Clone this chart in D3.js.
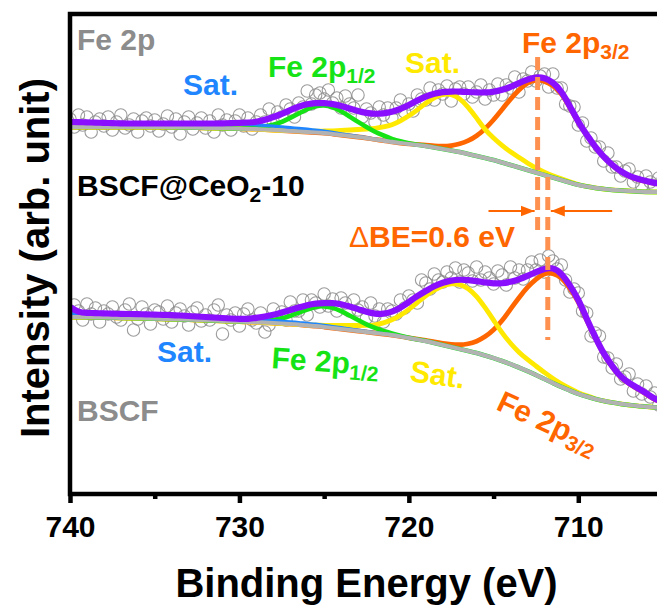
<!DOCTYPE html>
<html>
<head>
<meta charset="utf-8">
<script src="https://cdn.jsdelivr.net/npm/d3@7"></script>
<style>
  body { margin: 0; background: #fff; }
  svg { display: block; }
  text { font-family: "Liberation Sans", Arial, Helvetica, sans-serif; font-weight: bold; }
</style>
</head>
<body>
<svg id="chart" width="657" height="607"></svg>
<script>
// ---------------- Fe 2p XPS data (intensity in arbitrary units) ----------------

// Binding-energy grids (eV): raw scan points and fitted-curve samples
const scanEnergy = d3.range(740, 704.99, -0.25);   // 141 points
const fitEnergy  = d3.range(740, 704.99, -0.5);    // 71 points

const xTicksMajor = [740, 730, 720, 710];
const xTicksMinor = [735, 725, 715];

// Fe 2p3/2 peak positions of the two samples (eV)
const peakCeO2 = 712.4;
const peakBSCF = 711.8;

// --- BSCF@CeO2-10 (upper spectrum) ---
const ceo2Scan = [
  375,367,379,369,377,362,372,375,368,377,
  364,372,379,366,369,375,362,373,376,368,
  374,363,370,378,367,375,360,372,377,365,
  371,376,366,373,362,379,369,374,364,373,
  379,368,376,365,372,379,372,385,372,382,
  377,389,385,377,391,387,403,390,399,401,
  395,404,391,396,386,398,390,386,399,377,
  385,381,372,387,379,386,376,386,394,382,
  390,383,399,395,394,406,394,404,400,408,
  393,405,407,400,407,397,402,409,395,404,
  399,410,399,409,406,417,402,415,413,422,
  413,418,420,407,420,406,406,390,388,387,
  369,371,353,356,347,347,333,341,327,327,
  318,323,325,312,317,308,318,312,308,316,
  314
];
const ceo2Background = [
  367,367,367,367,367,367,367,367,367,367,
  367,367,367,366.5,366.5,366.5,366,366,366,365.5,
  365.5,365,365,364.5,364,363.5,363,362.5,362,361.5,
  361,360,359,358,357,356,354.5,353.5,352,351,
  350,349,348,346.5,345,343.5,342,340,338,336,
  334,331.5,329,326.5,324,321.5,319,316.5,314,311.5,
  309,307.5,306,305,304,303.5,303,302.5,302,302,
  302
];
const ceo2Envelope = [
  372,372,371.5,371.5,371,371,370.5,370.5,370.5,370.5,
  370.5,370.5,370.5,370.5,370.5,370.5,370.5,370.5,370.5,371,
  371,371.5,372,374,377,380,384,387.5,390,391,
  391,390,388,385.5,383,381,380,380.5,382,385,
  389,393.5,397.5,400.5,402,402.5,402.5,402,401.5,401.5,
  402,404,407,411,414.5,417,416.5,412,403,388,
  372,359,347,337,329,322.5,318,315,313,311,
  310
];
// fitted components, height above the background
const ceo2SatLow = [
  4.5,4.5,4.5,4.5,4.5,4.5,4.5,4.5,4.5,4.5,
  4.5,4.5,4.5,4.5,4.5,4.5,4.5,4.5,4.5,4.5,
  4.5,4.5,4.3,4.1,3.9,3.7,3.4,3.1,2.8,2.4,
  2.0,1.6,1.2,0.9,0.6,0.4,0.2,0.1,0,0,
  0,0,0,0,0,0,0,0,0,0,
  0,0,0,0,0,0,0,0,0,0,
  0,0,0,0,0,0,0,0,0,0,
  0
];
const ceo2P12 = [
  0,0,0,0,0,0,0,0,0,0,
  0,0,0,0,0,0,0,0,0,0,
  0,0.5,1.5,3,5,8.5,13,18,23,26.5,
  28,27,24,19.5,15,11,7.5,5,3,1.6,
  0.8,0.3,0,0,0,0,0,0,0,0,
  0,0,0,0,0,0,0,0,0,0,
  0,0,0,0,0,0,0,0,0,0,
  0
];
const ceo2SatHigh = [
  0,0,0,0,0,0,0,0,0,0,
  0,0,0,0,0,0,0,0,0,0,
  0,0,0,0,0,0,0.5,0.6,0.8,1.2,
  2,3.2,4.5,6,7.5,9,11,13.5,17,22,
  28,35,43,50,55,56.5,54,47,38,28,
  22,17,13,10,7,4.5,2.8,1.8,1.1,0.6,
  0.3,0,0,0,0,0,0,0,0,0,
  0
];
const ceo2P32 = [
  0,0,0,0,0,0,0,0,0,0,
  0,0,0,0,0,0,0,0,0,0,
  0,0,0,0,0,0,0,0,0,0,
  0,0,0,0,0,0,0,0,0,0,
  0,0.4,0.9,1.6,2.7,4.8,8,13,20,29,
  40,53,66,78,87.5,93,94,92.5,87,75,
  62,51,40.5,31.5,24.5,18.5,14.5,12,10.5,8.5,
  7.5
];

// --- BSCF (lower spectrum) ---
const bscfScan = [
  183,189,183,174,190,180,186,172,183,180,
  187,177,174,184,190,164,175,187,180,170,
  184,182,175,188,172,181,185,178,169,182,
  186,173,179,174,184,189,160,179,174,181,
  168,180,185,174,171,181,162,169,185,175,
  182,174,192,183,183,194,179,194,191,187,
  200,188,195,183,196,191,183,194,184,187,
  176,191,178,185,172,185,183,180,194,186,
  198,194,191,214,211,205,220,214,212,222,
  216,226,212,224,221,213,227,214,222,216,
  210,223,219,209,227,216,224,215,224,232,
  224,234,222,238,233,225,229,214,202,205,
  201,183,181,158,161,158,137,136,126,130,
  115,117,120,103,110,100,108,97,101,89,
  95
];
const bscfBackground = [
  177,177,177,176.5,176.5,176.5,176,176,176,175.5,
  175.5,175,175,174.5,174.5,174,174,173.5,173,173,
  172.5,172,172,171.5,171,170.5,170,169.5,168.5,168,
  167,166,165,164,163,162,161,160,159,157.5,
  156,154.5,153,151,149,147,145,143,141,138.5,
  136,133,130,126.5,123,119,115,111,107,103.5,
  100,97.5,95,93,91.5,90,89,88,87.5,86.5,
  86
];
const bscfEnvelope = [
  187,181.5,181,181,180.5,180.5,180,180,180,179.5,
  179.5,179,179,178.5,178,177.5,177,176.5,176,175.5,
  175,175,176,177.5,179,181.5,184,186.5,189,190.5,
  191,191,190,187.5,185,182,180,180,182,186,
  192,198,203,208,211.5,213.5,214.5,214,213,211.5,
  210.5,210.5,212,214.5,218,222,225.5,226.5,221,209,
  195,175,157,140,128,117,111,106,101,95,
  92
];
const bscfSatLow = [
  3.5,3.5,3.5,3.5,3.5,3.5,3.5,3.5,3.5,3.5,
  3.5,3.4,3.4,3.3,3.3,3.2,3.2,3.1,3.0,2.9,
  2.8,2.7,2.6,2.5,2.4,2.3,2.2,2.1,2.0,1.9,
  1.7,1.5,1.3,1.1,0.9,0.7,0.5,0.3,0.2,0.1,
  0,0,0,0,0,0,0,0,0,0,
  0,0,0,0,0,0,0,0,0,0,
  0,0,0,0,0,0,0,0,0,0,
  0
];
const bscfP12 = [
  0,0,0,0,0,0,0,0,0,0,
  0,0,0,0,0,0,0,0,0,0,
  0,0.3,0.8,1.5,3,5,8,12,16,19.5,
  21,20.5,18,14.5,11,7.5,5,3,1.6,0.8,
  0.3,0,0,0,0,0,0,0,0,0,
  0,0,0,0,0,0,0,0,0,0,
  0,0,0,0,0,0,0,0,0,0,
  0
];
const bscfSatHigh = [
  0,0,0,0,0,0,0,0,0,0,
  0,0,0,0,0,0,0,0,0,0,
  0,0,0,0,0,0,0,0.3,0.5,1,
  1.5,2.5,3.5,4.5,5.5,6.5,8,11,15,21,
  28.5,37,45.5,53,59.5,63.5,65,63,57,48,
  38,28,20.5,15,11.5,9,6.5,4.5,3,2,
  1.2,0.6,0.2,0,0,0,0,0,0,0,
  0
];
const bscfP32 = [
  0,0,0,0,0,0,0,0,0,0,
  0,0,0,0,0,0,0,0,0,0,
  0,0,0,0,0,0,0,0,0,0,
  0,0,0,0,0,0,0,0,0,0,
  0,0.3,0.6,1,1.6,2.5,4,7,11.5,18.5,
  28,40,55,70,84,96,106,110,110,102.5,
  93,76,61,46,35.5,26,21,17,12.5,7.5,
  5
];

// ---------------- colours ----------------
const C = {
  envelope: "#8b0fff",
  p32: "#ff6600",
  satHigh: "#ffe900",
  p12: "#16e316",
  satLow: "#1f86ff",
  background: "#b2b2b2",
  scan: "#8a8a8a",
  marker: "#ff9150",
  note: "#ff6600",
  panel: "#8c8c8c"
};

// ---------------- layout ----------------
const plotL = 70, plotR = 663, plotT = 14, plotB = 494;
const x = d3.scaleLinear().domain([740, 705]).range([plotL, plotR]);
const y = d3.scaleLinear().domain([0, 480]).range([plotB, plotT]);

const svg = d3.select("#chart");
const defs = svg.append("defs");
defs.append("clipPath").attr("id", "plotClip")
  .append("rect").attr("x", plotL).attr("y", plotT)
  .attr("width", plotR - plotL).attr("height", plotB - plotT);
defs.append("marker").attr("id", "arrowHead")
  .attr("markerUnits", "userSpaceOnUse")
  .attr("viewBox", "0 -6 14 12").attr("refX", 14).attr("refY", 0)
  .attr("markerWidth", 14).attr("markerHeight", 12).attr("orient", "auto")
  .append("path").attr("d", "M0,-5.5L14,0L0,5.5Z").attr("fill", C.note);

const plot = svg.append("g").attr("clip-path", "url(#plotClip)");

// raw scan points
function drawScan(values) {
  plot.append("g").selectAll("circle").data(values).join("circle")
    .attr("cx", (d, i) => x(scanEnergy[i]))
    .attr("cy", d => y(d))
    .attr("r", 6.2)
    .attr("fill", "none")
    .attr("stroke", C.scan)
    .attr("stroke-opacity", 0.85)
    .attr("stroke-width", 1.1);
}

const fitLine = d3.line().curve(d3.curveBasis);
function drawCurve(values, color, width) {
  plot.append("path")
    .attr("d", fitLine(fitEnergy.map((e, i) => [x(e), y(values[i])])))
    .attr("fill", "none")
    .attr("stroke", color)
    .attr("stroke-width", width)
    .attr("stroke-linejoin", "round");
}
const onBackground = (bg, h) => bg.map((b, i) => b + h[i]);

function drawSpectrum(s) {
  drawCurve(onBackground(s.bg, s.p32), C.p32, 4.8);
  drawCurve(onBackground(s.bg, s.satHigh), C.satHigh, 4.8);
  drawCurve(onBackground(s.bg, s.p12), C.p12, 4.6);
  drawCurve(onBackground(s.bg, s.satLow), C.satLow, 3.2);
  drawCurve(s.bg, C.background, 4.2);
  drawCurve(s.env, C.envelope, 6.2);
}

drawScan(ceo2Scan);
drawScan(bscfScan);
drawSpectrum({ bg: ceo2Background, env: ceo2Envelope, satLow: ceo2SatLow, p12: ceo2P12, satHigh: ceo2SatHigh, p32: ceo2P32 });
drawSpectrum({ bg: bscfBackground, env: bscfEnvelope, satLow: bscfSatLow, p12: bscfP12, satHigh: bscfSatHigh, p32: bscfP32 });

// Fe 2p3/2 position markers and the shift between them
const markers = svg.append("g");
markers.append("line")
  .attr("x1", x(peakCeO2)).attr("x2", x(peakCeO2))
  .attr("y1", y(437)).attr("y2", y(258))
  .attr("stroke", C.marker).attr("stroke-width", 5).attr("stroke-dasharray", "13,7");
markers.append("line")
  .attr("x1", x(peakBSCF)).attr("x2", x(peakBSCF))
  .attr("y1", y(317)).attr("y2", y(154))
  .attr("stroke", C.marker).attr("stroke-width", 5).attr("stroke-dasharray", "13,7");
markers.append("line")
  .attr("x1", x(715.3)).attr("x2", x(peakCeO2) - 3)
  .attr("y1", y(283)).attr("y2", y(283))
  .attr("stroke", C.note).attr("stroke-width", 2).attr("marker-end", "url(#arrowHead)");
markers.append("line")
  .attr("x1", x(708.0)).attr("x2", x(peakBSCF) + 3)
  .attr("y1", y(283)).attr("y2", y(283))
  .attr("stroke", C.note).attr("stroke-width", 2).attr("marker-end", "url(#arrowHead)");

// ---------------- frame and axis ----------------
svg.append("rect")
  .attr("x", plotL).attr("y", plotT)
  .attr("width", plotR - plotL).attr("height", plotB - plotT)
  .attr("fill", "none").attr("stroke", "#000").attr("stroke-width", 4.5);

const axisMajor = svg.append("g").attr("transform", `translate(0,${plotB})`)
  .call(d3.axisBottom(x).tickValues(xTicksMajor).tickSize(9).tickPadding(13).tickFormat(d3.format("d")));
axisMajor.select(".domain").remove();
axisMajor.selectAll(".tick line").attr("stroke", "#000").attr("stroke-width", 4.5);
axisMajor.selectAll(".tick text")
  .attr("font-size", 30).attr("fill", "#000")
  .style("font-family", '"Liberation Sans", Arial, sans-serif').style("font-weight", "bold");

const axisMinor = svg.append("g").attr("transform", `translate(0,${plotB})`)
  .call(d3.axisBottom(x).tickValues(xTicksMinor).tickSize(5).tickFormat(""));
axisMinor.select(".domain").remove();
axisMinor.selectAll(".tick line").attr("stroke", "#000").attr("stroke-width", 4.5);

svg.append("text")
  .attr("x", (plotL + plotR) / 2).attr("y", 597)
  .attr("text-anchor", "middle").attr("font-size", 40).attr("fill", "#000")
  .text("Binding Energy (eV)");

svg.append("text")
  .attr("transform", "translate(49,258) rotate(-90)")
  .attr("text-anchor", "middle").attr("font-size", 40).attr("fill", "#000")
  .text("Intensity (arb. unit)");

// ---------------- labels ----------------
function label(txt, sub, px, py, color, angle, after) {
  const t = svg.append("text")
    .attr("x", px).attr("y", py).attr("font-size", 30).attr("fill", color);
  if (angle) t.attr("transform", `rotate(${angle},${px},${py})`);
  t.append("tspan").text(txt);
  if (sub) t.append("tspan").attr("dy", 6).attr("font-size", 21).text(sub);
  if (after) t.append("tspan").attr("dy", -6).text(after);
  return t;
}

label("Fe 2p", null, 77, 50, C.panel);
label("Sat.", null, 183, 95, C.satLow);
label("Fe 2p", "1/2", 268, 77, C.p12);
label("Sat.", null, 405, 73, C.satHigh);
label("Fe 2p", "3/2", 522, 53, C.p32);
label("BSCF@CeO", "2", 77, 196, "#000", 0, "-10");

const dbe = svg.append("text").attr("x", 349).attr("y", 247).attr("font-size", 30).attr("fill", C.note);
dbe.append("tspan").attr("font-weight", "normal").style("font-weight", "normal").text("\u0394");
dbe.append("tspan").text("BE=" + d3.format(".1f")(peakCeO2 - peakBSCF) + " eV");

label("Sat.", null, 157, 362, C.satLow);
label("Fe 2p", "1/2", 271, 368, C.p12, 4);
label("Sat.", null, 409, 381, C.satHigh, 8);
label("Fe 2p", "3/2", 495, 409, C.p32, 25);
label("BSCF", null, 77, 421, C.panel);
</script>
</body>
</html>
